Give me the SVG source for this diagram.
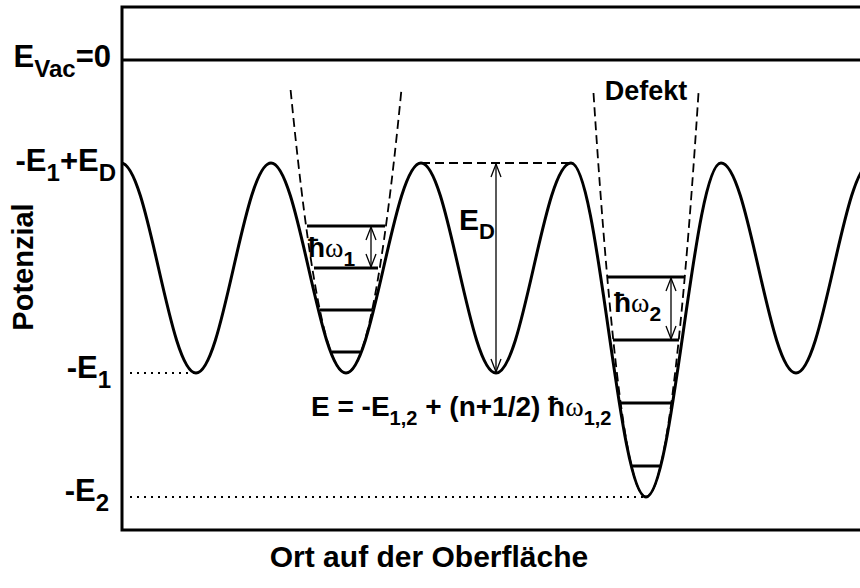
<svg xmlns="http://www.w3.org/2000/svg" width="860" height="588" viewBox="0 0 860 588">
<defs>
<style>
text{font-family:"Liberation Sans",Arial,sans-serif;font-weight:bold;fill:#000}
.lbl{font-size:30px}
.sm{font-size:22px}
.big{font-size:31px}
.bsm{font-size:24px}
.w{font-family:"Liberation Serif","Times New Roman",serif;font-weight:normal}
.thick{fill:none;stroke:#000;stroke-width:3}
.dash{fill:none;stroke:#000;stroke-width:1.8;stroke-dasharray:9 5}
.dot{fill:none;stroke:#000;stroke-width:2;stroke-dasharray:2 5}
.arr{fill:none;stroke:#000;stroke-width:1.3;marker-start:url(#ah);marker-end:url(#ah)}
</style>
<marker id="ah" markerUnits="userSpaceOnUse" markerWidth="16" markerHeight="14" refX="14" refY="6" orient="auto-start-reverse" viewBox="0 0 16 14">
<path d="M1,1 L14,6 L1,11" fill="none" stroke="#000" stroke-width="1.3"/>
</marker>
</defs>
<g id="frame">
<path class="thick" d="M860,7 H122 V530 H860"/>
<path class="thick" d="M122,60 H860"/>
</g>
<g id="potential">
<path class="thick" d="M121,163 C148.25,163 168.75,373 196,373 C223.25,373 243.75,163 271,163 C298.25,163 318.75,373 346,373 C373.25,373 393.75,163 421,163 C448.25,163 468.75,373 496,373 C523.25,373 543.75,163 571,163 C598.25,163 618.75,497 646,497 C673.25,497 693.75,163 721,163 C748.25,163 768.75,373 796,373 C823.25,373 843.75,163 871,163"/>
</g>
<g id="well1">
<path class="dash" d="M290.6,90 Q346,656 401.4,90"/>
<path class="thick" d="M307,226 H385 M314,268 H378 M320,310 H372 M332,352 H360"/>
</g>
<g id="well2">
<path class="dash" d="M593.5,93 Q646,901 698.5,93"/>
<path class="thick" d="M607,277 H685 M613,340 H679 M621,403 H671 M632,466 H660"/>
</g>
<g id="connectors">
<path class="dash" d="M421,163 H571"/>
<path class="dot" d="M130,373 H194"/>
<path class="dot" d="M130,497 H644"/>
<path class="arr" d="M371,227 V267"/>
<path class="arr" d="M496,164 V372"/>
<path class="arr" d="M671,278 V339"/>
</g>
<g id="labels">
<text class="big" x="111" y="67" text-anchor="end">E<tspan class="bsm" dy="10">Vac</tspan><tspan dy="-10">=0</tspan></text>
<text class="big" x="116" y="171" text-anchor="end">-E<tspan class="bsm" dy="10">1</tspan><tspan dy="-10">+E</tspan><tspan class="bsm" dy="10">D</tspan></text>
<text class="big" x="111" y="378" text-anchor="end">-E<tspan class="bsm" dy="10">1</tspan></text>
<text class="big" x="109" y="501" text-anchor="end">-E<tspan class="bsm" dy="10">2</tspan></text>
<text class="lbl" transform="translate(33,267) rotate(-90)" text-anchor="middle" style="font-size:29px">Potenzial</text>
<text class="lbl" x="429" y="567" text-anchor="middle">Ort auf der Oberfläche</text>
<text class="lbl" x="646" y="100" text-anchor="middle" style="font-size:27px">Defekt</text>
<text class="lbl" x="459" y="230">E<tspan class="sm" dy="9">D</tspan></text>
<text class="lbl" x="308" y="257" style="font-size:28px">ħ<tspan class="w">ω</tspan><tspan class="sm" dy="9" style="font-size:21px">1</tspan></text>
<text class="lbl" x="614" y="312" style="font-size:28px">ħ<tspan class="w">ω</tspan><tspan class="sm" dy="9" style="font-size:21px">2</tspan></text>
<text class="lbl" x="311" y="416" style="font-size:28px">E = -E<tspan class="sm" dy="9" style="font-size:20px">1,2</tspan><tspan dy="-9"> + (n+1/2) ħ</tspan><tspan class="w">ω</tspan><tspan class="sm" dy="9" style="font-size:20px">1,2</tspan></text>
</g>
</svg>
